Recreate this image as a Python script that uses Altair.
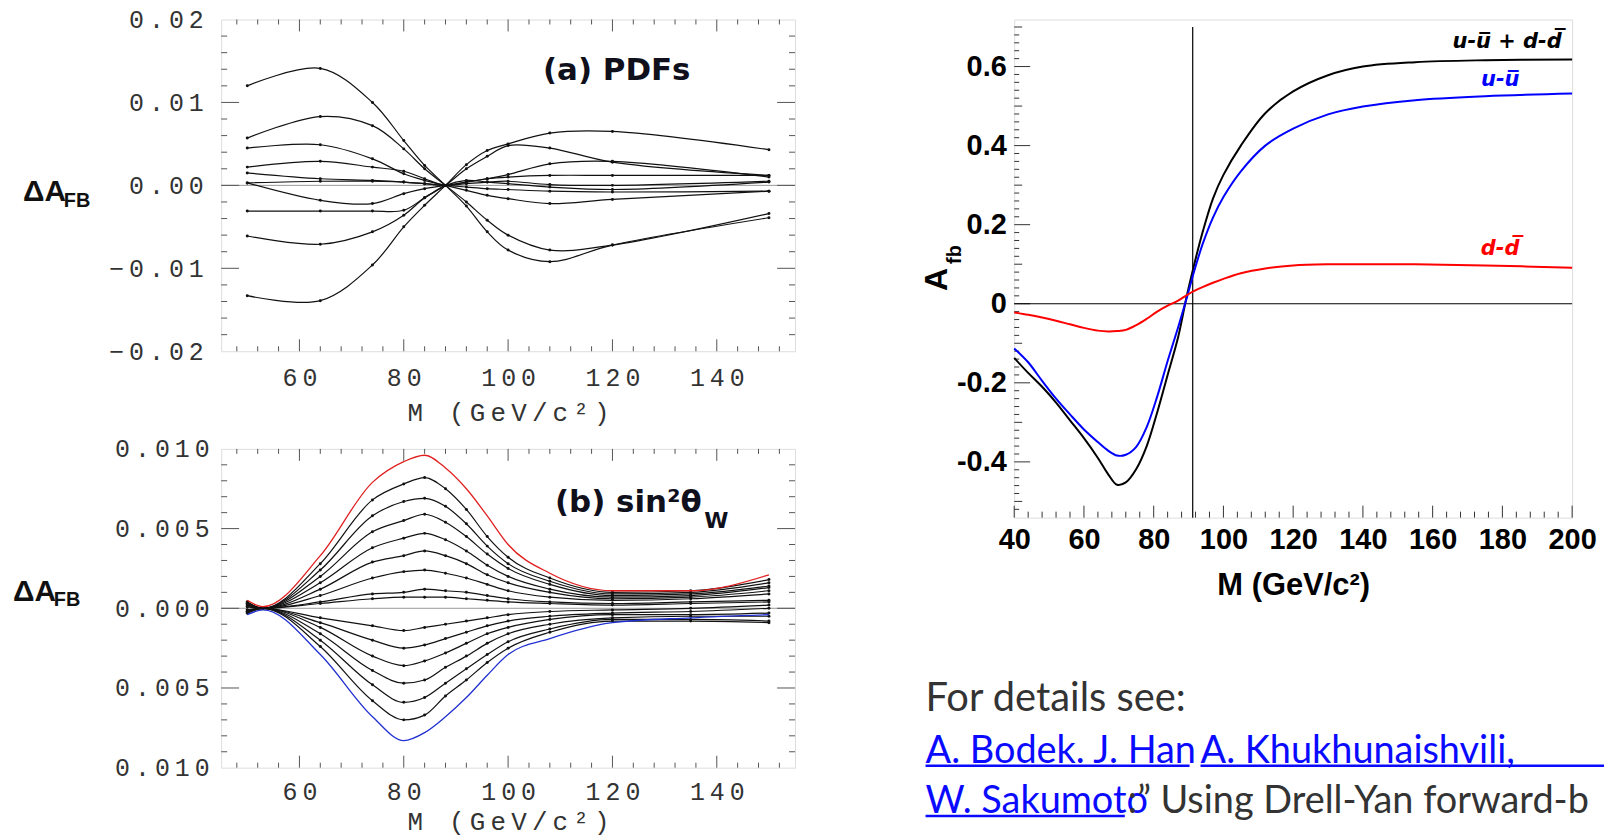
import altair as alt
import pandas as pd

THIN = "\u2009"
MONO = "Liberation Mono"
BODY = "Lato"

# ---------------- panel (a): PDF variations ----------------
A_M = [50, 64, 74, 80, 84, 88, 92, 96, 100, 108, 120, 150]
A_C1 = [0.0120, 0.0141, 0.0100, 0.0054, 0.0024, 0.0000, -0.0025, -0.0056, -0.0078, -0.0092, -0.0072, -0.0039]
A_C2 = [0.0057, 0.0083, 0.0072, 0.0044, 0.0020, 0.0000, -0.0020, -0.0042, -0.0060, -0.0078, -0.0072, -0.0034]
A_C3 = [0.0045, 0.0049, 0.0032, 0.0014, 0.0006, 0.0000, -0.0006, -0.0012, -0.0016, -0.0022, -0.0017, -0.0007]
A_C4 = [0.0022, 0.0029, 0.0022, 0.0017, 0.0008, 0.0000, 0.0004, 0.0008, 0.0013, 0.0026, 0.0029, 0.0010]
A_C5 = [0.0015, 0.0008, 0.0006, 0.0004, 0.0002, 0.0000, -0.0002, -0.0004, -0.0005, -0.0007, -0.0008, -0.0007]
A_C6 = [0.0003, 0.0005, 0.0005, 0.0004, 0.0002, 0.0000, 0.0002, 0.0004, 0.0005, 0.0001, 0.0000, 0.0005]
A_C7 = [0.0003, -0.0018, -0.0022, -0.0010, -0.0004, 0.0000, 0.0004, 0.0008, 0.0010, 0.0012, 0.0012, 0.0012]
A_C8 = [-0.0031, -0.0031, -0.0031, -0.0030, -0.0015, 0.0000, 0.0006, 0.0004, 0.0002, -0.0002, -0.0005, 0.0004]
A_C9 = [-0.0061, -0.0071, -0.0056, -0.0036, -0.0015, 0.0000, 0.0020, 0.0035, 0.0048, 0.0045, 0.0028, 0.0012]
A_C10 = [-0.0133, -0.0139, -0.0096, -0.0050, -0.0024, 0.0000, 0.0025, 0.0042, 0.0050, 0.0063, 0.0065, 0.0043]
A_CURVES = [A_C1, A_C2, A_C3, A_C4, A_C5, A_C6, A_C7, A_C8, A_C9, A_C10]

# ---------------- panel (b): sin^2 theta_W variations ----------------
B_M = [50, 53, 64, 74, 80, 84, 88, 92, 96, 100, 108, 120, 135, 150]
B_RED = [0.0005, 0.0001, 0.0033, 0.0079, 0.0092, 0.0096, 0.0088, 0.0075, 0.0058, 0.0040, 0.0022, 0.0011, 0.0011, 0.0021]
B_P1 = [0.0004, 0.0000, 0.0028, 0.0068, 0.0078, 0.0082, 0.0075, 0.0062, 0.0045, 0.0032, 0.0019, 0.0010, 0.0011, 0.0018]
B_P2 = [0.0004, 0.0000, 0.0024, 0.0058, 0.0067, 0.0069, 0.0064, 0.0053, 0.0039, 0.0028, 0.0017, 0.0009, 0.0010, 0.0016]
B_P3 = [0.0003, 0.0000, 0.0020, 0.0048, 0.0055, 0.0059, 0.0054, 0.0045, 0.0034, 0.0025, 0.0015, 0.0008, 0.0009, 0.0014]
B_P4 = [0.0003, 0.0000, 0.0016, 0.0038, 0.0044, 0.0047, 0.0043, 0.0036, 0.0027, 0.0020, 0.0012, 0.0007, 0.0008, 0.0013]
B_P5 = [0.0002, 0.0000, 0.0012, 0.0029, 0.0033, 0.0036, 0.0033, 0.0028, 0.0021, 0.0016, 0.0010, 0.0006, 0.0007, 0.0011]
B_P6 = [0.0002, 0.0000, 0.0008, 0.0019, 0.0023, 0.0024, 0.0022, 0.0019, 0.0015, 0.0011, 0.0007, 0.0005, 0.0006, 0.0009]
B_P7 = [0.0001, 0.0000, 0.0004, 0.0009, 0.0010, 0.0012, 0.0011, 0.0010, 0.0008, 0.0006, 0.0004, 0.0003, 0.0004, 0.0005]
B_P8 = [0.0001, 0.0000, 0.0003, 0.0006, 0.0007, 0.0007, 0.0007, 0.0006, 0.0005, 0.0004, 0.0003, 0.0002, 0.0003, 0.0004]
B_N1 = [-0.0001, 0.0000, -0.0006, -0.0011, -0.0014, -0.0012, -0.0010, -0.0008, -0.0006, -0.0004, -0.0002, -0.0001, 0.0000, 0.0002]
B_N2 = [-0.0001, 0.0000, -0.0009, -0.0020, -0.0025, -0.0023, -0.0019, -0.0015, -0.0011, -0.0008, -0.0005, -0.0003, -0.0002, 0.0000]
B_N3 = [-0.0002, 0.0000, -0.0012, -0.0030, -0.0036, -0.0033, -0.0028, -0.0022, -0.0016, -0.0012, -0.0007, -0.0004, -0.0004, -0.0003]
B_N4 = [-0.0002, 0.0000, -0.0016, -0.0039, -0.0047, -0.0045, -0.0037, -0.0030, -0.0022, -0.0016, -0.0010, -0.0006, -0.0005, -0.0005]
B_N5 = [-0.0003, 0.0000, -0.0020, -0.0048, -0.0059, -0.0056, -0.0047, -0.0038, -0.0029, -0.0021, -0.0013, -0.0007, -0.0007, -0.0008]
B_N6 = [-0.0003, 0.0000, -0.0024, -0.0058, -0.0070, -0.0067, -0.0055, -0.0045, -0.0034, -0.0025, -0.0015, -0.0008, -0.0008, -0.0009]
B_BLUE = [-0.0004, -0.0001, -0.0029, -0.0068, -0.0083, -0.0078, -0.0068, -0.0056, -0.0042, -0.0029, -0.0019, -0.0009, -0.0006, -0.0004]
B_BLACK = [B_P1, B_P2, B_P3, B_P4, B_P5, B_P6, B_P7, B_P8, B_N1, B_N2, B_N3, B_N4, B_N5, B_N6]

# ---------------- right panel: A_fb vs M ----------------
R_M = [40, 44, 48, 52, 56, 60, 64, 67, 69.5, 72, 75, 78, 81, 84, 87, 89.5, 91.5, 94, 97,
       100, 105, 112, 120, 130, 140, 155, 175, 200]
R_SUM = [-0.137, -0.175, -0.210, -0.250, -0.295, -0.340, -0.390, -0.432, -0.458, -0.452, -0.418,
         -0.360, -0.275, -0.180, -0.085, 0.020, 0.095, 0.180, 0.266, 0.326, 0.400, 0.482, 0.537,
         0.578, 0.600, 0.611, 0.616, 0.618]
R_UU = [-0.113, -0.148, -0.195, -0.240, -0.280, -0.318, -0.350, -0.372, -0.384, -0.382, -0.362,
        -0.312, -0.235, -0.145, -0.060, 0.015, 0.079, 0.150, 0.218, 0.270, 0.335, 0.400, 0.443,
        0.479, 0.499, 0.515, 0.525, 0.532]
R_DD = [-0.022, -0.028, -0.035, -0.043, -0.052, -0.061, -0.068, -0.070, -0.069, -0.066, -0.054,
        -0.038, -0.020, -0.005, 0.008, 0.022, 0.032, 0.042, 0.053, 0.063, 0.077, 0.089, 0.097,
        0.100, 0.100, 0.100, 0.097, 0.091]
R_SERIES = ["u-u\u0305 + d-d\u0305", "u-u\u0305", "d-d\u0305"]
R_COLORS = ["#000000", "#0000ff", "#ff0000"]
Z_MASS = 91.19

# tick positions
AB_X_MAJOR = [60, 80, 100, 120, 140]
AB_X_MINOR = [48, 52, 56, 64, 68, 72, 76, 84, 88, 92, 96, 104, 108, 112, 116, 124, 128, 132, 136, 144, 148, 152]
A_Y_MAJOR = [-0.01, 0.0, 0.01]
A_Y_MINOR = [-0.018, -0.016, -0.014, -0.012, -0.008, -0.006, -0.004, -0.002,
             0.002, 0.004, 0.006, 0.008, 0.012, 0.014, 0.016, 0.018]
B_Y_MAJOR = [-0.005, 0.0, 0.005]
B_Y_MINOR = [-0.009, -0.008, -0.007, -0.006, -0.004, -0.003, -0.002, -0.001,
             0.001, 0.002, 0.003, 0.004, 0.006, 0.007, 0.008, 0.009]
R_X_MAJOR = [40, 60, 80, 100, 120, 140, 160, 180, 200]
R_X_MINOR = [44, 48, 52, 56, 64, 68, 72, 76, 84, 88, 92, 96, 104, 108, 112, 116, 124, 128, 132, 136,
             144, 148, 152, 156, 164, 168, 172, 176, 184, 188, 192, 196]
R_Y_MAJOR = [-0.4, -0.2, 0.0, 0.2, 0.4, 0.6]
R_Y_MID = [-0.5, -0.3, -0.1, 0.1, 0.3, 0.5, 0.7]
R_Y_MINOR = [-0.52, -0.48, -0.46, -0.44, -0.42, -0.38, -0.36, -0.34, -0.32, -0.28, -0.26, -0.24, -0.22,
             -0.18, -0.16, -0.14, -0.12, -0.08, -0.06, -0.04, -0.02, 0.02, 0.04, 0.06, 0.08, 0.12,
             0.14, 0.16, 0.18, 0.22, 0.24, 0.26, 0.28, 0.32, 0.34, 0.36, 0.38, 0.42, 0.44, 0.46,
             0.48, 0.52, 0.54, 0.56, 0.58, 0.62, 0.64, 0.66, 0.68]

AW, AH = 576, 333
BW, BH = 576, 320
RW, RH = 560, 500


def spaced(s):
    return THIN.join(list(s))


def long_df(xs, curves, prefix):
    rows = []
    for i, c in enumerate(curves):
        for m, v in zip(xs, c):
            rows.append({"M": m, "A": v, "curve": f"{prefix}{i}"})
    return pd.DataFrame(rows)


def ticks(vals, side, length, W, H, xs, ys, color="#555", width=1):
    if side in ("bottom", "top"):
        df = pd.DataFrame({"M": vals})
        y0, y1 = (H, H - length) if side == "bottom" else (0, length)
        return alt.Chart(df).mark_rule(color=color, strokeWidth=width).encode(
            x=alt.X("M:Q", scale=xs), y=alt.value(y0), y2=alt.value(y1))
    df = pd.DataFrame({"A": vals})
    x0, x1 = (0, length) if side == "left" else (W, W - length)
    return alt.Chart(df).mark_rule(color=color, strokeWidth=width).encode(
        y=alt.Y("A:Q", scale=ys), x=alt.value(x0), x2=alt.value(x1))


def label(text, x, y, size, font, weight="bold", color="#111", align="left", angle=0,
          baseline="middle", limit=None):
    kw = dict(align=align, baseline=baseline, font=font, fontSize=size, fontWeight=weight, color=color)
    if angle:
        kw["angle"] = angle
    if limit:
        kw["limit"] = limit
        kw["ellipsis"] = "\u200b"
    return alt.Chart(pd.DataFrame({"t": [text]})).mark_text(**kw).encode(
        text="t:N", x=alt.value(x), y=alt.value(y))


def left_axes(fmt_expr, yvals, ypad, xpad, tpad):
    xa = alt.Axis(values=AB_X_MAJOR, ticks=False, domain=False, grid=False,
                  labelExpr=f"join(split(format(datum.value, 'd'), ''), '{THIN}')",
                  labelFont=MONO, labelFontSize=25, labelColor="#333", labelPadding=xpad,
                  labelFlush=False, labelOverlap=False,
                  title=spaced("M (GeV/c²)"), titleFont=MONO, titleFontSize=26,
                  titleFontWeight="normal", titleColor="#333", titlePadding=tpad)
    ya = alt.Axis(values=yvals, ticks=False, domain=False, grid=False, labelExpr=fmt_expr,
                  labelFont=MONO, labelFontSize=25, labelColor="#333", labelPadding=ypad,
                  labelOverlap=False, title=None)
    return xa, ya


# ---------- build panel (a)
xs_a = alt.Scale(domain=[45, 155], nice=False, zero=False)
ys_a = alt.Scale(domain=[-0.02, 0.02], nice=False, zero=False)
xa, ya = left_axes(f"join(split(format(datum.value, '.2f'), ''), '{THIN}')",
                   [-0.02, -0.01, 0, 0.01, 0.02], ypad=18, xpad=14, tpad=10)
df_a = long_df(A_M, A_CURVES, "a")
base_a = alt.Chart(df_a).encode(x=alt.X("M:Q", scale=xs_a, axis=xa), y=alt.Y("A:Q", scale=ys_a, axis=ya),
                                detail="curve:N")
zero_a = alt.Chart(pd.DataFrame({"A": [0.0]})).mark_rule(color="#999", strokeWidth=1).encode(
    y=alt.Y("A:Q", scale=ys_a))
panel_a = alt.layer(
    zero_a,
    ticks(AB_X_MAJOR, "bottom", 12, AW, AH, xs_a, ys_a), ticks(AB_X_MINOR, "bottom", 5, AW, AH, xs_a, ys_a),
    ticks(AB_X_MAJOR, "top", 12, AW, AH, xs_a, ys_a), ticks(AB_X_MINOR, "top", 5, AW, AH, xs_a, ys_a),
    ticks(A_Y_MAJOR, "left", 18, AW, AH, xs_a, ys_a), ticks(A_Y_MINOR, "left", 6, AW, AH, xs_a, ys_a),
    ticks(A_Y_MAJOR, "right", 18, AW, AH, xs_a, ys_a), ticks(A_Y_MINOR, "right", 6, AW, AH, xs_a, ys_a),
    base_a.mark_line(color="#111", strokeWidth=1.2, interpolate="catmull-rom"),
    base_a.mark_point(filled=True, color="#111", size=9, opacity=1),
    label("(a) PDFs", 323, 52, 31, "DejaVu Sans", color="#10101c"),
    label("ΔA", -199, 173, 30, "Liberation Sans", color="#111"),
    label("FB", -158, 182, 20, "Liberation Sans", color="#111"),
).properties(width=AW, height=AH)

# ---------- build panel (b)
xs_b = alt.Scale(domain=[45, 155], nice=False, zero=False)
ys_b = alt.Scale(domain=[-0.01, 0.01], nice=False, zero=False)
xb, yb = left_axes(f"join(split(format(abs(datum.value), '.3f'), ''), '{THIN}')",
                   [-0.01, -0.005, 0, 0.005, 0.01], ypad=12, xpad=12, tpad=4)
df_b = long_df(B_M, B_BLACK, "b")
df_red = pd.DataFrame({"M": B_M, "A": B_RED})
df_blue = pd.DataFrame({"M": B_M, "A": B_BLUE})
base_b = alt.Chart(df_b).encode(x=alt.X("M:Q", scale=xs_b, axis=xb), y=alt.Y("A:Q", scale=ys_b, axis=yb),
                                detail="curve:N")
zero_b = alt.Chart(pd.DataFrame({"A": [0.0]})).mark_rule(color="#999", strokeWidth=1).encode(
    y=alt.Y("A:Q", scale=ys_b))
panel_b = alt.layer(
    zero_b,
    ticks(AB_X_MAJOR, "bottom", 12, BW, BH, xs_b, ys_b), ticks(AB_X_MINOR, "bottom", 5, BW, BH, xs_b, ys_b),
    ticks(AB_X_MAJOR, "top", 12, BW, BH, xs_b, ys_b), ticks(AB_X_MINOR, "top", 5, BW, BH, xs_b, ys_b),
    ticks(B_Y_MAJOR, "left", 18, BW, BH, xs_b, ys_b), ticks(B_Y_MINOR, "left", 6, BW, BH, xs_b, ys_b),
    ticks(B_Y_MAJOR, "right", 18, BW, BH, xs_b, ys_b), ticks(B_Y_MINOR, "right", 6, BW, BH, xs_b, ys_b),
    base_b.mark_line(color="#111", strokeWidth=1.2, interpolate="monotone"),
    base_b.mark_point(filled=True, color="#111", size=9, opacity=1),
    alt.Chart(df_red).mark_line(color="#e02020", strokeWidth=1.3, interpolate="monotone").encode(
        x=alt.X("M:Q", scale=xs_b), y=alt.Y("A:Q", scale=ys_b)),
    alt.Chart(df_blue).mark_line(color="#2030d0", strokeWidth=1.3, interpolate="monotone").encode(
        x=alt.X("M:Q", scale=xs_b), y=alt.Y("A:Q", scale=ys_b)),
    label("(b) sin²θ", 335, 54, 31, "DejaVu Sans", color="#10101c"),
    label("W", 485, 72, 22, "DejaVu Sans", color="#10101c"),
    label("ΔA", -209, 144, 30, "Liberation Sans", color="#111"),
    label("FB", -168, 152, 20, "Liberation Sans", color="#111"),
).properties(width=BW, height=BH)

# ---------- build right panel
xs_r = alt.Scale(domain=[40, 200], nice=False, zero=False)
ys_r = alt.Scale(domain=[-0.541, 0.719], nice=False, zero=False)
rows = []
for name, vals in zip(R_SERIES, [R_SUM, R_UU, R_DD]):
    for m, v in zip(R_M, vals):
        rows.append({"M": m, "A": v, "series": name})
df_r = pd.DataFrame(rows)
xr = alt.Axis(values=R_X_MAJOR, ticks=False, domain=False, grid=False, labelFont="Liberation Sans",
              labelFontWeight="bold", labelFontSize=29, labelColor="#000", labelPadding=8,
              labelFlush=False, labelOverlap=False, title="M (GeV/c²)", titleFont="Liberation Sans",
              titleFontWeight="bold", titleFontSize=31, titleColor="#000", titlePadding=16)
yr = alt.Axis(values=R_Y_MAJOR, ticks=False, domain=False, grid=False, labelFont="Liberation Sans",
              labelFontWeight="bold", labelFontSize=29, labelColor="#000", labelPadding=8,
              labelOverlap=False, title=None,
              labelExpr="datum.value == 0 ? '0' : (datum.value < 0 ? '-' + format(-datum.value, '.1f') : format(datum.value, '.1f'))")
curves_r = alt.Chart(df_r).mark_line(strokeWidth=2, interpolate="catmull-rom").encode(
    x=alt.X("M:Q", scale=xs_r, axis=xr), y=alt.Y("A:Q", scale=ys_r, axis=yr),
    color=alt.Color("series:N", scale=alt.Scale(domain=R_SERIES, range=R_COLORS), legend=None))
hline = alt.Chart(pd.DataFrame({"A": [0.0]})).mark_rule(color="#000", strokeWidth=1.2).encode(
    y=alt.Y("A:Q", scale=ys_r))
vline = alt.Chart(pd.DataFrame({"M": [Z_MASS], "A": [0.70], "A2": [-0.541]})).mark_rule(
    color="#000", strokeWidth=1.2).encode(x=alt.X("M:Q", scale=xs_r), y=alt.Y("A:Q", scale=ys_r), y2="A2:Q")
lab_df = pd.DataFrame({"M": [197.0, 184.9, 184.9], "A": [0.662, 0.567, 0.138], "series": R_SERIES})
curve_labels = alt.Chart(lab_df).mark_text(align="right", baseline="middle", font="DejaVu Sans",
                                           fontSize=21, fontWeight="bold", fontStyle="italic").encode(
    x=alt.X("M:Q", scale=xs_r), y=alt.Y("A:Q", scale=ys_r), text="series:N",
    color=alt.Color("series:N", scale=alt.Scale(domain=R_SERIES, range=R_COLORS), legend=None))

TXT = "#333333"
LINK = "#0a0aff"
FS = 38
ref_texts = [
    label("For details see:", -89, 694, FS + 2, BODY, weight="normal", color=TXT, baseline="alphabetic"),
    label("A. Bodek. J. Han", -89, 746, FS, BODY, weight="normal", color=LINK, baseline="alphabetic"),
    label("A. Khukhunaishvili,", 187, 746, FS, BODY, weight="normal", color=LINK, baseline="alphabetic",
          limit=400),
    label("W. Sakumoto", -89, 796, FS, BODY, weight="normal", color=LINK, baseline="alphabetic"),
    label(":\u201d Using Drell-Yan forward-backward asymmetry", 114, 796, FS, BODY, weight="normal",
          color=TXT, baseline="alphabetic", limit=470),
]
# the second link's underline runs to the page edge, as in the reference
ul = pd.DataFrame({"x": [-89, 187, -89], "x2": [176, 592, 111], "y": [749, 749, 799.5]})
underlines = alt.Chart(ul).mark_rule(color=LINK, strokeWidth=2.5).encode(
    x=alt.X("x:Q", scale=None), x2="x2:Q", y=alt.Y("y:Q", scale=None))

panel_r = alt.layer(
    ticks(R_X_MAJOR, "bottom", 12, RW, RH, xs_r, ys_r, color="#333"),
    ticks(R_X_MINOR, "bottom", 6, RW, RH, xs_r, ys_r, color="#333"),
    ticks(R_Y_MAJOR, "left", 16, RW, RH, xs_r, ys_r, color="#333"),
    ticks(R_Y_MID, "left", 8, RW, RH, xs_r, ys_r, color="#333"),
    ticks(R_Y_MINOR, "left", 5, RW, RH, xs_r, ys_r, color="#333"),
    hline, vline, curves_r, curve_labels,
    label("A", -77, 261, 32, "Liberation Sans", color="#000", align="center", angle=270),
    label("fb", -59, 236, 20, "Liberation Sans", color="#000", align="center", angle=270),
    *ref_texts, underlines,
).properties(width=RW, height=RH)

left_col = alt.vconcat(panel_a, panel_b, spacing=9)
chart = alt.hconcat(left_col, panel_r, spacing=125).properties(
    padding={"left": 12, "top": 5, "right": 0, "bottom": 0}
).configure_view(stroke="#666", strokeWidth=1).configure(background="white")

chart.save("out.html", embed_options={"renderer": "svg", "actions": False})
